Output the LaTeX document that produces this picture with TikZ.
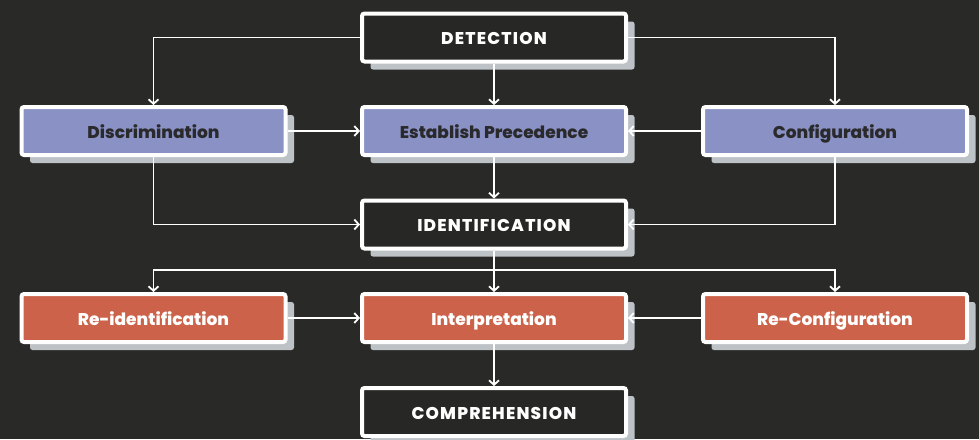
\documentclass[tikz,border=0pt]{standalone}
\usepackage{fontspec}
\setmainfont{Poppins}[BoldFont={Poppins ExtraBold}]
\usetikzlibrary{arrows.meta,shadows}
\definecolor{bg}{HTML}{292927}
\definecolor{boxdark}{HTML}{272725}
\definecolor{lilac}{HTML}{8A91C5}
\definecolor{brick}{HTML}{CB6249}
\definecolor{shade}{HTML}{BDC2C7}
\definecolor{ink}{HTML}{2A2A2C}
\tikzset{
  x=1pt, y=-1pt,
  stage/.style={draw=white, line width=4pt, rounded corners=2.5pt,
    minimum width=264pt, minimum height=48pt, inner sep=0pt,
    text height=14pt, text depth=0pt,
    font=\fontsize{17}{18}\selectfont\bfseries,
    drop shadow={shadow xshift=8.5pt, shadow yshift=-8pt, fill=shade, opacity=1}},
  keystage/.style={stage, fill=boxdark, text=white,
    font=\fontsize{17}{18}\selectfont\bfseries\addfontfeatures{LetterSpace=7}},
  bluestage/.style={stage, fill=lilac, text=ink},
  redstage/.style={stage, fill=brick, text=white},
  link/.style={draw=white, line width=1.9pt,
    -{Straight Barb[length=4.5pt,width=10pt,line width=1.8pt]}},
}
\begin{document}
\begin{tikzpicture}
\fill[bg] (0,0) rectangle (979,439);
\useasboundingbox (0,0) rectangle (979,439);

% stages
\node[keystage]  (det)    at (494,37.5) {DETECTION};
\node[bluestage] (disc)   at (153.5,131) {Discrimination};
\node[bluestage] (prec)   at (494,131) {Establish Precedence};
\node[bluestage] (conf)   at (835,131) {Configuration};
\node[keystage]  (ident)  at (494,224.5) {IDENTIFICATION};
\node[redstage]  (reid)   at (153.5,318) {Re-identification};
\node[redstage]  (interp) at (494,318) {Interpretation};
\node[redstage]  (reconf) at (835,318) {Re-Configuration};
\node[keystage]  (comp)   at (494,412) {COMPREHENSION};
\coordinate (split) at (494,270);

% connectors
\draw[link] (det.west) -| (disc.north);
\draw[link] (det.south) -- (prec.north);
\draw[link] (det.east) -| (conf.north);
\draw[link] (disc.east) -- (prec.west);
\draw[link] (conf.west) -- (prec.east);
\draw[link] (prec.south) -- (ident.north);
\draw[link] (disc.south) |- (ident.west);
\draw[link] (conf.south) |- (ident.east);
\draw[link] (ident.south) -- (interp.north);
\draw[link] (split) -| (reid.north);
\draw[link] (split) -| (reconf.north);
\draw[link] (reid.east) -- (interp.west);
\draw[link] (reconf.west) -- (interp.east);
\draw[link] (interp.south) -- (comp.north);
\end{tikzpicture}
\end{document}
